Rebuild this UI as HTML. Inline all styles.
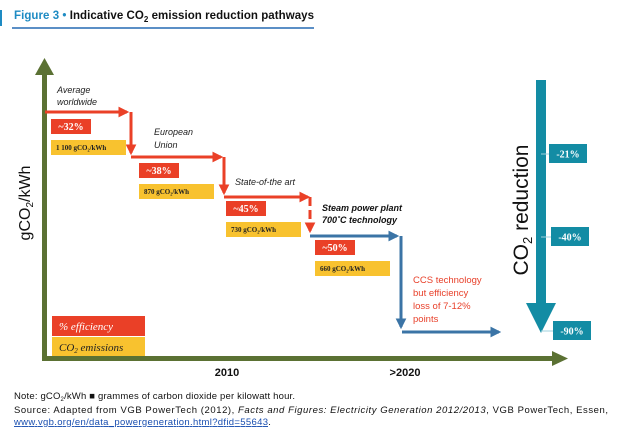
<!DOCTYPE html>
<html><head><meta charset="utf-8"><style>
body{margin:0;background:#fff;}
svg{display:block;font-family:"Liberation Sans",sans-serif;}
</style></head><body>
<svg width="622" height="428" viewBox="0 0 622 428">
<defs>
<marker id="ar" viewBox="0 0 10 10" refX="8" refY="5" markerWidth="3.6" markerHeight="3.6" orient="auto"><path d="M0,0L10,5L0,10z" fill="#ea4027"/></marker>
<marker id="ab" viewBox="0 0 10 10" refX="8" refY="5" markerWidth="3.6" markerHeight="3.6" orient="auto"><path d="M0,0L10,5L0,10z" fill="#3b74a6"/></marker>
</defs>
<rect x="0" y="10" width="2" height="16" fill="#1e8bc3"/>
<text x="14" y="19" font-size="11.5" font-weight="bold" textLength="300"><tspan fill="#1e8bc3">Figure 3</tspan><tspan fill="#1e8bc3"> • </tspan><tspan fill="#111">Indicative CO</tspan><tspan fill="#111" font-size="8" dy="3">2</tspan><tspan fill="#111" dy="-3"> emission reduction pathways</tspan></text>
<rect x="12" y="27" width="302" height="2" fill="#5b8fc6"/>

<rect x="42" y="72" width="5" height="289" fill="#5b7133"/>
<path d="M35,75L44.5,58L54,75z" fill="#5b7133"/>
<rect x="42" y="356" width="512" height="5" fill="#5b7133"/>
<path d="M552,351L568,358.5L552,366z" fill="#5b7133"/>
<text transform="translate(30,203) rotate(-90)" font-size="16" text-anchor="middle" fill="#111">gCO<tspan font-size="10" dy="3">2</tspan><tspan dy="-3">/kWh</tspan></text>
<text x="227" y="376" font-size="11" font-weight="bold" text-anchor="middle" fill="#111">2010</text>
<text x="405" y="376" font-size="11" font-weight="bold" text-anchor="middle" fill="#111">&gt;2020</text>

<g fill="none" stroke="#ea4027" stroke-width="3">
<path d="M45,112H127" marker-end="url(#ar)"/>
<path d="M131,112V153" marker-end="url(#ar)"/>
<path d="M131,157H221" marker-end="url(#ar)"/>
<path d="M224,157V193" marker-end="url(#ar)"/>
<path d="M224,197H308" marker-end="url(#ar)"/>
<path d="M310,197V231" stroke-dasharray="9,4" marker-end="url(#ar)"/>
</g>
<g fill="none" stroke="#3b74a6" stroke-width="3">
<path d="M310,236H397" marker-end="url(#ab)"/>
<path d="M401,236V327" marker-end="url(#ab)"/>
<path d="M402,332H499" marker-end="url(#ab)"/>
</g>

<g id="stages"></g>

<g font-size="9" font-style="italic" fill="#222">
<text x="57" y="93">Average</text>
<text x="57" y="105">worldwide</text>
<text x="154" y="135">European</text>
<text x="154" y="148">Union</text>
<text x="235" y="185">State-of-the art</text>
<text x="322" y="211" font-weight="bold" fill="#111">Steam power plant</text>
<text x="322" y="223" font-weight="bold" fill="#111">700˚C technology</text>
</g>
<g font-size="9.5" fill="#e8402a">
<text x="413" y="283">CCS technology</text>
<text x="413" y="296">but efficiency</text>
<text x="413" y="309">loss of 7-12%</text>
<text x="413" y="322">points</text>
</g>

<rect x="52" y="316" width="93" height="20" fill="#ea4027"/>
<text x="59" y="330" font-size="11" font-style="italic" fill="#fff" font-family="Liberation Serif,serif">% efficiency</text>
<rect x="52" y="337" width="93" height="19" fill="#f8c22f"/>
<text x="59" y="351" font-size="11" font-style="italic" fill="#222" font-family="Liberation Serif,serif">CO<tspan font-size="7" dy="2">2</tspan><tspan dy="-2"> emissions</tspan></text>

<rect x="536" y="80" width="10" height="225" fill="#138ca4"/>
<path d="M526,303L541,333L556,303z" fill="#138ca4"/>
<text transform="translate(528,210) rotate(-90)" font-size="21" text-anchor="middle" fill="#111">CO<tspan font-size="13" dy="4">2</tspan><tspan dy="-4"> reduction</tspan></text>
<g id="reductions"></g>

<text x="14" y="399" font-size="9.5" fill="#111" textLength="281">Note: gCO<tspan font-size="6" dy="2">2</tspan><tspan dy="-2">/kWh ■ grammes of carbon dioxide per kilowatt hour.</tspan></text>
<text x="14" y="413" font-size="9.5" fill="#111" textLength="594">Source: Adapted from VGB PowerTech (2012), <tspan font-style="italic">Facts and Figures: Electricity Generation 2012/2013</tspan>, VGB PowerTech, Essen,</text>
<text x="14" y="425" font-size="9.5" fill="#1a4fb0"><tspan text-decoration="underline" textLength="254">www.vgb.org/en/data_powergeneration.html?dfid=55643</tspan><tspan fill="#111">.</tspan></text>
</svg>
<script>
const efficiency = [32, 38, 45, 50];
const emissions = ['1 100', '870', '730', '660'];
const reductions = [-21, -40, -90];
const NS = "http://www.w3.org/2000/svg";
const stageX = [51, 139, 226, 315];
const stageY = [119, 163, 201, 240];
const g = document.getElementById('stages');
function mk(tag, attrs, parent){const e=document.createElementNS(NS,tag);for(const k in attrs)e.setAttribute(k,attrs[k]);parent.appendChild(e);return e;}
efficiency.forEach((v,i)=>{
  const x=stageX[i], y=stageY[i];
  const r=mk('rect',{x:x,y:y,width:40,height:15,fill:'#ea4027'},g);
  
  
  const t=mk('text',{x:x+20,y:y+11,'font-size':10,'font-weight':'bold',fill:'#fff','text-anchor':'middle','font-family':'Liberation Serif,serif'},g);
  t.textContent='~'+v+'%';
  
  
  const r2=mk('rect',{x:x,y:y+21,width:75,height:15,fill:'#f8c22f'},g);
  
  
  const t2=mk('text',{x:x+5,y:y+31,'font-size':7,'font-weight':'bold',fill:'#222','font-family':'Liberation Serif,serif'},g);
  t2.textContent=emissions[i]+' gCO₂/kWh';
  
  
});
const rg=document.getElementById('reductions');
const redY=[144,227,321], redX=[549,551,553];
reductions.forEach((v,i)=>{
  const r=mk('rect',{x:redX[i],y:redY[i],width:38,height:19,fill:'#138ca4'},rg);
  
  
  const t=mk('text',{x:redX[i]+19,y:redY[i]+13.5,'font-size':10,'font-weight':'bold',fill:'#fff','text-anchor':'middle','font-family':'Liberation Serif,serif'},rg);
  t.textContent=v+'%';
  
  
  const l=mk('line',{x1:541,x2:redX[i],y1:redY[i]+10,y2:redY[i]+10,stroke:'#9fd0dc','stroke-width':1},rg);
  
  
});
</script>
</body></html>
